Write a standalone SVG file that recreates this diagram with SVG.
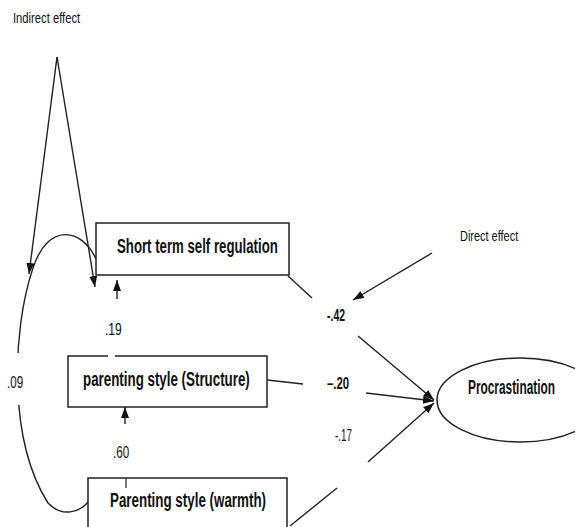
<svg xmlns="http://www.w3.org/2000/svg" width="575" height="527" viewBox="0 0 575 527">
<defs>
<marker id="ah" markerWidth="12" markerHeight="10" refX="11" refY="4" orient="auto" markerUnits="userSpaceOnUse">
<path d="M0,0 L11,4 L0,8 Z" fill="#111"/>
</marker>
<style>
.ln{stroke:#222;stroke-width:1.4;fill:none}
.bx{fill:#fff;stroke:#222;stroke-width:1.5}
.nt{font-family:"Liberation Sans",Arial,sans-serif;font-weight:bold;font-size:20px;fill:#111}
.sm{font-family:"Liberation Sans",Arial,sans-serif;font-size:14px;fill:#111}
.lb{font-family:"Liberation Sans",Arial,sans-serif;font-size:17px;fill:#111}
</style>
</defs>
<rect width="575" height="527" fill="#fff"/>
<g id="connectors">
<path class="ln" d="M96,259 C82,228 48,222 33,268 C12,330 8,440 48,503 C62,518 80,512 88,502"/>
<rect x="4" y="353" width="26" height="52" fill="#fff"/>
<line class="ln" x1="57" y1="57" x2="29" y2="274" marker-end="url(#ah)"/>
<line class="ln" x1="57" y1="57" x2="95" y2="287" marker-end="url(#ah)"/>
<line class="ln" x1="117" y1="299" x2="117" y2="280" marker-end="url(#ah)"/>
<line class="ln" x1="125" y1="424" x2="125" y2="407" marker-end="url(#ah)"/>
<line class="ln" x1="432" y1="253" x2="353" y2="300" marker-end="url(#ah)"/>
<line class="ln" x1="288" y1="276" x2="312" y2="298"/>
<line class="ln" x1="358" y1="336" x2="434" y2="400" marker-end="url(#ah)"/>
<line class="ln" x1="267" y1="380" x2="303" y2="384"/>
<line class="ln" x1="366" y1="393" x2="434" y2="401" marker-end="url(#ah)"/>
<line class="ln" x1="290" y1="526" x2="337" y2="488"/>
<line class="ln" x1="368" y1="462" x2="434" y2="403" marker-end="url(#ah)"/>
</g>
<text class="sm" transform="translate(13,23) scale(0.6,1)" textLength="112" lengthAdjust="spacingAndGlyphs">Indirect effect</text>
<text class="sm" transform="translate(460,241) scale(0.6,1)" textLength="97" lengthAdjust="spacingAndGlyphs">Direct effect</text>
<text class="lb" font-weight="bold" transform="translate(327,321) scale(0.6,1)" textLength="30" lengthAdjust="spacingAndGlyphs">-.42</text>
<text class="lb" font-weight="bold" transform="translate(327,389) scale(0.6,1)" textLength="37" lengthAdjust="spacingAndGlyphs">–.20</text>
<text class="lb" transform="translate(335,441) scale(0.6,1)" textLength="28" lengthAdjust="spacingAndGlyphs">-.17</text>
<text class="lb" transform="translate(105,335) scale(0.6,1)" textLength="28" lengthAdjust="spacingAndGlyphs">.19</text>
<text class="lb" transform="translate(113,458) scale(0.6,1)" textLength="27" lengthAdjust="spacingAndGlyphs">.60</text>
<text class="lb" transform="translate(7,388) scale(0.6,1)" textLength="27" lengthAdjust="spacingAndGlyphs">.09</text>
<g id="short-term">
<rect class="bx" x="96" y="223" width="193" height="52"/>
<text class="nt" transform="translate(117,253) scale(0.6,1)" textLength="268" lengthAdjust="spacingAndGlyphs">Short term self regulation</text>
</g>
<g id="structure">
<rect class="bx" x="68" y="356" width="199" height="51"/>
<line x1="108" y1="356" x2="115" y2="356" stroke="#fff" stroke-width="2"/>
<text class="nt" transform="translate(83,386) scale(0.6,1)" textLength="278" lengthAdjust="spacingAndGlyphs">parenting style  (Structure)</text>
</g>
<g id="warmth">
<rect class="bx" x="88" y="478" width="199" height="60"/>
<line x1="126" y1="478" x2="126" y2="488" stroke="#222" stroke-width="1.2"/>
<text class="nt" transform="translate(110,507) scale(0.6,1)" textLength="260" lengthAdjust="spacingAndGlyphs">Parenting style (warmth)</text>
</g>
<g id="procrastination">
<ellipse cx="520" cy="400" rx="83" ry="42" fill="#fff" stroke="#222" stroke-width="1.5"/>
<text class="nt" transform="translate(468,394) scale(0.6,1)" textLength="145" lengthAdjust="spacingAndGlyphs">Procrastination</text>
</g>
</svg>
